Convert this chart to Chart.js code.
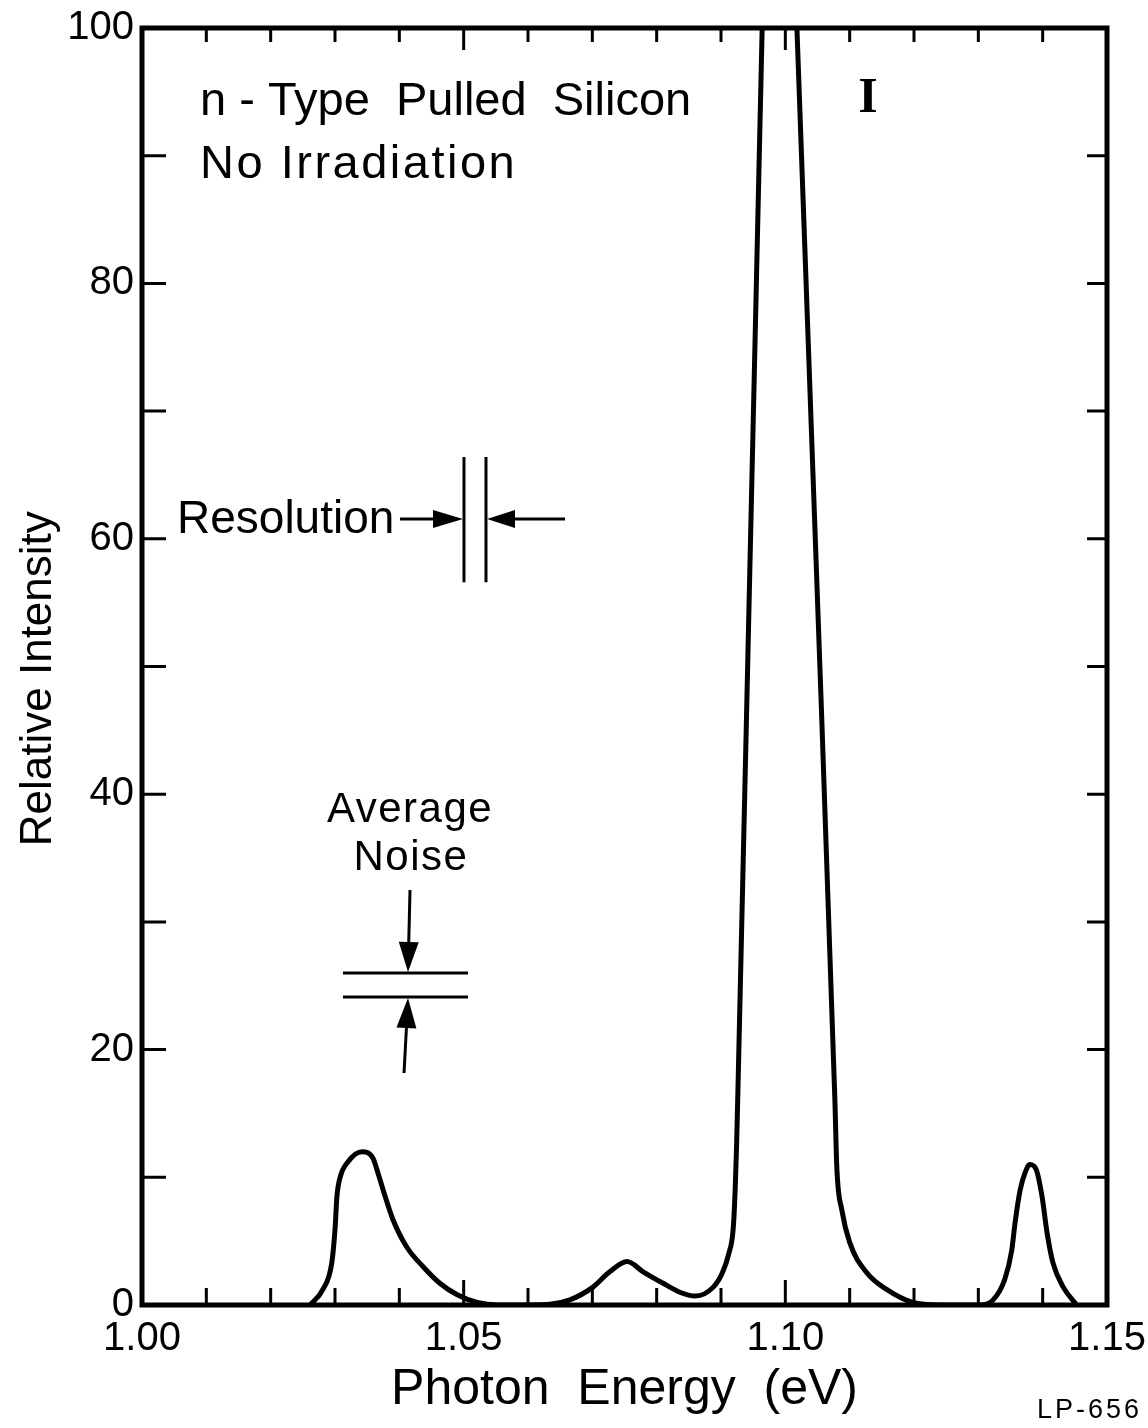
<!DOCTYPE html>
<html><head><meta charset="utf-8">
<script src="https://cdn.jsdelivr.net/npm/chart.js@4/dist/chart.umd.min.js"></script>
<style>html,body{margin:0;padding:0;background:#fff;} #wrap{width:1148px;height:1428px;}</style>
</head><body><div id="wrap"><canvas id="c" width="1148" height="1428"></canvas></div>
<script>
// ---- data ----
const energy = [1.0261,1.0281,1.0295,1.0300,1.0303,1.0308,1.0320,1.0342,1.0359,1.0367,1.0378,1.0390,1.0412,1.0437,1.0463,1.0490,1.0521,1.0552,
                1.0603,1.0634,1.0665,1.0701,1.0727,1.0754,1.0779,1.0810,1.0836,1.0860,1.0888,1.0902,1.0912,1.0919,1.0922,1.0924,1.0926,1.0945,1.0964,
                1.0985,
                1.1018,1.1048,1.1077,1.1080,1.1088,1.1100,1.1127,1.1158,1.1198,1.1240,
                1.1303,1.1323,1.1341,1.1352,1.1357,1.1365,1.1373,1.1380,1.1390,1.1399,1.1407,1.1416,1.1432,1.1453];
const intensity = [0,1.2,3.3,5.9,8.5,10.0,11.2,12.0,11.5,10.3,8.5,6.7,4.5,3.0,1.7,0.8,0.2,0,
                   0,0.05,0.4,1.4,2.6,3.4,2.6,1.7,1.0,0.7,1.4,2.5,4.0,6.0,9.0,12.1,16.1,58,100,
                   147,
                   100,58,16.1,10.8,7.4,4.9,2.5,1.2,0.2,0,
                   0,0.4,2.0,4.3,6.4,9.0,10.4,11.0,10.6,8.5,5.6,3.3,1.4,0];
const xTickValues = [1.00,1.05,1.10,1.15];
const xTickLabels = ['1.00','1.05','1.10','1.15'];
const xMinorTicks = [1.01,1.02,1.03,1.04,1.05,1.06,1.07,1.08,1.09,1.10,1.11,1.12,1.13,1.14];
const xLongTicks = [1.05,1.10];
const yTickValues = [0,20,40,60,80,100];
const yTickLabels = ['0','20','40','60','80','100'];
const yMinorTicks = [10,20,30,40,50,60,70,80,90];

const FONT = "'Liberation Sans', Arial, sans-serif";

function arrow(ctx, x1, y1, x2, y2, len, half) {
  const ang = Math.atan2(y2 - y1, x2 - x1);
  const bx = x2 - len * Math.cos(ang), by = y2 - len * Math.sin(ang);
  ctx.beginPath(); ctx.moveTo(x1, y1); ctx.lineTo(bx, by); ctx.stroke();
  ctx.beginPath();
  ctx.moveTo(x2, y2);
  ctx.lineTo(bx + half * Math.sin(ang), by - half * Math.cos(ang));
  ctx.lineTo(bx - half * Math.sin(ang), by + half * Math.cos(ang));
  ctx.closePath(); ctx.fill();
}

const decor = {
  id: 'decor',
  afterDatasetsDraw(chart) {
    const {ctx, chartArea: a, scales: {x, y}} = chart;
    ctx.save();
    ctx.strokeStyle = '#000'; ctx.fillStyle = '#000';
    // frame
    ctx.lineWidth = 5; ctx.lineJoin = 'miter';
    ctx.strokeRect(a.left, a.top, a.right - a.left, a.bottom - a.top);
    // inside ticks
    ctx.lineWidth = 3;
    ctx.beginPath();
    xMinorTicks.forEach(v => {
      const px = x.getPixelForValue(v);
      const long = xLongTicks.includes(v);
      ctx.moveTo(px, a.bottom); ctx.lineTo(px, a.bottom - (long ? 25 : 17));
      ctx.moveTo(px, a.top); ctx.lineTo(px, a.top + (long ? 22 : 14));
    });
    yMinorTicks.forEach(v => {
      const py = y.getPixelForValue(v);
      ctx.moveTo(a.left, py); ctx.lineTo(a.left + 24, py);
      ctx.moveTo(a.right, py); ctx.lineTo(a.right - 20, py);
    });
    ctx.stroke();

    // text annotations
    ctx.textBaseline = 'alphabetic';
    ctx.font = `47px ${FONT}`;
    ctx.letterSpacing = '0px';
    ctx.textAlign = 'left';
    ctx.fillText('n - Type  Pulled  Silicon', x.getPixelForValue(1.00902), y.getPixelForValue(93.19));
    ctx.letterSpacing = '2.5px';
    ctx.fillText('No Irradiation', x.getPixelForValue(1.00902), y.getPixelForValue(88.25));
    ctx.letterSpacing = '0px';
    ctx.font = `bold 50px 'Liberation Serif', serif`;
    ctx.textAlign = 'center';
    ctx.fillText('I', x.getPixelForValue(1.11285), y.getPixelForValue(93.42));

    // Resolution marker
    ctx.font = `46px ${FONT}`;
    ctx.textAlign = 'left';
    ctx.fillText('Resolution', x.getPixelForValue(1.00544), y.getPixelForValue(60.45));
    ctx.lineWidth = 3;
    const ry = y.getPixelForValue(61.55);
    arrow(ctx, x.getPixelForValue(1.0401), ry, x.getPixelForValue(1.0499), ry, 30, 9);
    arrow(ctx, x.getPixelForValue(1.06575), ry, x.getPixelForValue(1.05363), ry, 28, 9);
    ctx.beginPath();
    [1.05005, 1.05347].forEach(v => {
      const px = x.getPixelForValue(v);
      ctx.moveTo(px, y.getPixelForValue(66.4)); ctx.lineTo(px, y.getPixelForValue(56.6));
    });
    ctx.stroke();

    // Average noise marker
    ctx.font = `42px ${FONT}`;
    ctx.textAlign = 'center';
    ctx.letterSpacing = '1.5px';
    ctx.fillText('Average', x.getPixelForValue(1.04166), y.getPixelForValue(37.82));
    ctx.fillText('Noise', x.getPixelForValue(1.04181), y.getPixelForValue(34.06));
    ctx.letterSpacing = '0px';
    const nx = x.getPixelForValue(1.04135);
    arrow(ctx, x.getPixelForValue(1.04166), y.getPixelForValue(32.5), nx, y.getPixelForValue(26.08), 30, 10);
    arrow(ctx, x.getPixelForValue(1.04073), y.getPixelForValue(18.17), nx, y.getPixelForValue(24.04), 30, 10);
    ctx.beginPath();
    [26.0, 24.12].forEach(v => {
      const py = y.getPixelForValue(v);
      ctx.moveTo(x.getPixelForValue(1.03124), py); ctx.lineTo(x.getPixelForValue(1.05067), py);
    });
    ctx.stroke();

    // figure code
    ctx.font = `27px ${FONT}`;
    ctx.textAlign = 'right';
    ctx.letterSpacing = '3px';
    ctx.fillText('LP-656', chart.width - 6, chart.height - 10);
    ctx.restore();
  }
};

new Chart(document.getElementById('c'), {
  type: 'line',
  data: {
    datasets: [{
      data: energy.map((e, i) => ({x: e, y: intensity[i]})),
      borderColor: '#000',
      borderWidth: 5,
      pointRadius: 0,
      cubicInterpolationMode: 'monotone',
      fill: false
    }]
  },
  options: {
    responsive: false,
    devicePixelRatio: 1,
    animation: false,
    layout: {padding: {top: 28, right: 41, left: 0, bottom: 0}},
    plugins: {legend: {display: false}, tooltip: {enabled: false}},
    scales: {
      x: {
        type: 'linear', position: 'bottom', min: 1.00, max: 1.15,
        grid: {display: false, drawTicks: false},
        border: {display: false},
        afterBuildTicks: s => { s.ticks = xTickValues.map(v => ({value: v})); },
        afterFit: s => { s.height = 123; s.paddingLeft = 0; s.paddingRight = 0; },
        ticks: {
          autoSkip: false, maxRotation: 0, color: '#000', padding: 10,
          font: {family: FONT, size: 40},
          callback: v => xTickLabels[xTickValues.indexOf(v)]
        },
        title: {display: true, text: 'Photon  Energy  (eV)', color: '#000',
                font: {family: FONT, size: 50}, padding: {top: 0, bottom: 8}}
      },
      y: {
        type: 'linear', position: 'left', min: 0, max: 100,
        grid: {display: false, drawTicks: false},
        border: {display: false},
        afterBuildTicks: s => { s.ticks = yTickValues.map(v => ({value: v})); },
        afterFit: s => { s.width = 142; s.paddingTop = 0; s.paddingBottom = 0; },
        ticks: {
          color: '#000', padding: 8,
          font: {family: FONT, size: 40},
          callback: v => yTickLabels[yTickValues.indexOf(v)]
        },
        title: {display: true, text: 'Relative Intensity  ', color: '#000',
                font: {family: FONT, size: 44}, padding: {top: 12, bottom: 0}}
      }
    }
  },
  plugins: [decor]
});
</script>
</body></html>
